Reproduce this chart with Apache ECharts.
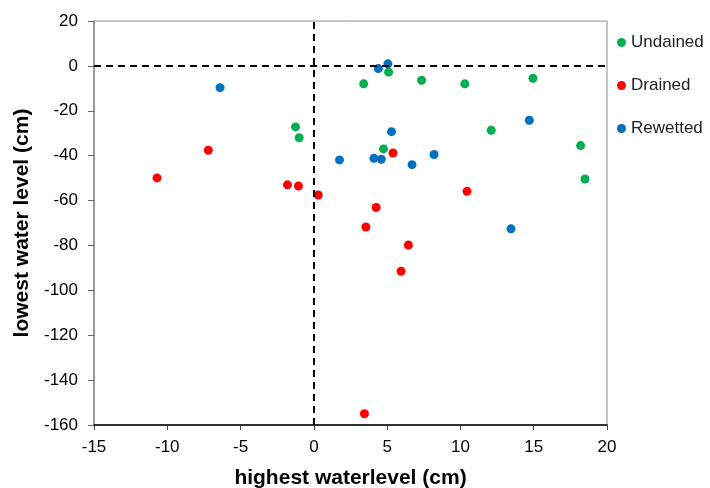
<!DOCTYPE html>
<html lang="en">
<head>
    <meta charset="UTF-8">
    <title>water levels</title>
    <script src="https://cdn.jsdelivr.net/npm/echarts@6/dist/echarts.min.js"></script>
    <style>
        html, body { margin: 0; padding: 0; background: #fff; }
        #chart { width: 710px; height: 488px; }
    </style>
</head>
<body>
    <div id="chart"></div>
    <script>
        // [highest, lowest] water level in cm
        var undrained = [
            [-1.25, -27.2], [-1.0, -32], [5.1, -2.8], [3.4, -8], [7.35, -6.4],
            [10.3, -8], [14.95, -5.5], [12.1, -28.7], [18.2, -35.5], [4.75, -37],
            [18.5, -50.4]
        ];
        var drained = [
            [-7.2, -37.6], [-10.7, -49.9], [-1.8, -53], [-1.05, -53.5], [0.3, -57.5],
            [5.4, -38.8], [10.45, -55.9], [4.25, -63.1], [3.55, -71.8], [6.45, -79.8],
            [5.95, -91.5], [3.45, -155]
        ];
        var rewetted = [
            [-6.4, -9.7], [1.75, -41.9], [5.05, 0.9], [4.4, -1.2], [14.7, -24.2],
            [5.3, -29.3], [4.1, -41.2], [4.6, -41.6], [8.2, -39.5], [6.7, -44],
            [13.45, -72.6]
        ];

        var chart = echarts.init(document.getElementById('chart'));
        var font = 'Liberation Sans, Arial, sans-serif';

        function scatter(name, color, data, extra) {
            var s = {
                name: name,
                type: 'scatter',
                symbolSize: 9,
                itemStyle: { color: color, opacity: 1 },
                data: data
            };
            return Object.assign(s, extra || {});
        }

        var option = {
            animation: false,
            grid: {
                left: 94, right: 103, top: 21, bottom: 63,
                outerBoundsMode: 'none',
                containLabel: false,
                show: true, borderColor: '#8c8c8c', borderWidth: 1
            },
            legend: {
                orient: 'vertical',
                left: 612, top: 29,
                itemGap: 26,
                itemWidth: 9, itemHeight: 9,
                icon: 'circle',
                textStyle: { fontFamily: font, fontSize: 17, color: '#222' },
                data: ['Undained', 'Drained', 'Rewetted']
            },
            xAxis: {
                type: 'value',
                min: -15, max: 20, interval: 5,
                name: 'highest waterlevel (cm)',
                nameLocation: 'middle',
                nameGap: 43,
                nameTextStyle: { fontFamily: font, fontSize: 21, fontWeight: 'bold', color: '#000' },
                axisLine: { onZero: false, lineStyle: { color: '#000', width: 1.5 } },
                axisTick: { show: true, length: 5, lineStyle: { color: '#444' } },
                axisLabel: { fontFamily: font, fontSize: 17, color: '#000', margin: 14 },
                splitLine: { show: false }
            },
            yAxis: {
                type: 'value',
                min: -160, max: 20, interval: 20,
                name: 'lowest water level (cm)',
                nameLocation: 'middle',
                nameGap: 58,
                nameTextStyle: { fontFamily: font, fontSize: 21, fontWeight: 'bold', color: '#000' },
                axisLine: { onZero: false, lineStyle: { color: '#8c8c8c', width: 1.5 } },
                axisTick: { show: true, length: 6, lineStyle: { color: '#666' } },
                axisLabel: { fontFamily: font, fontSize: 17, color: '#000', margin: 16 },
                splitLine: { show: false }
            },
            series: [
                scatter('Undained', '#00B050', undrained, {
                    markLine: {
                        silent: true,
                        symbol: 'none',
                        label: { show: false },
                        lineStyle: { color: '#000', type: [7, 5], width: 2 },
                        data: [{ xAxis: 0 }, { yAxis: 0 }]
                    }
                }),
                scatter('Drained', '#FF0000', drained),
                scatter('Rewetted', '#0070C0', rewetted)
            ]
        };
        chart.setOption(option);
    </script>
</body>
</html>
